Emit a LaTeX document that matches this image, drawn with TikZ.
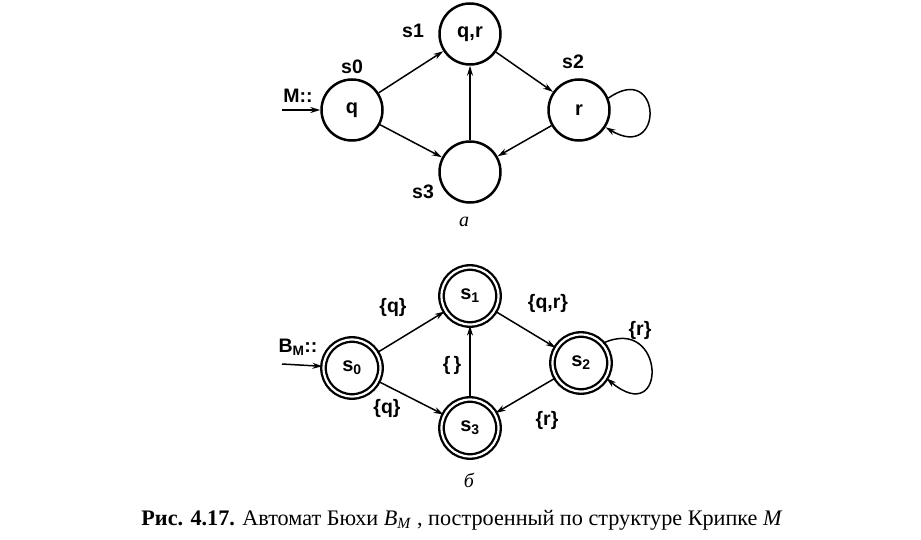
\documentclass[tikz,border=0pt]{standalone}
\usepackage{fontspec}
\setmainfont{Liberation Serif}
\setsansfont{Liberation Sans}
\usetikzlibrary{arrows.meta, positioning}

\begin{document}
\begin{tikzpicture}[x=1pt, y=-1pt,
    kst/.style={circle, draw, line width=2.5pt, minimum size=61pt, inner sep=0pt, font=\sffamily\bfseries\fontsize{20}{22}\selectfont},
    bst/.style={circle, draw, line width=2.3pt, double, double distance=2.2pt, minimum size=57pt, inner sep=0pt, font=\sffamily\bfseries\fontsize{20}{22}\selectfont},
    tr/.style={line width=1.5pt, -{Stealth[length=10pt, width=6pt]}},
    lbl/.style={font=\sffamily\bfseries\fontsize{19.5}{22}\selectfont, inner sep=1pt}]
    \useasboundingbox (0,0) rectangle (921,540);

    % Структура Крипке M (а)
    \node[kst] (a0) at (352,110) {q};
    \node[kst] (a1) at (470,34) {q,r};
    \node[kst] (a2) at (579,110) {r};
    \node[kst] (a3) at (470,172) {};
    \node[lbl] (na0) at (352,67) {s0};
    \node[lbl] (na1) at (413,31) {s1};
    \node[lbl] (na2) at (573,62) {s2};
    \node[lbl] (na3) at (423,192) {s3};
    % вход
    \node[lbl] (ma) at (298,96) {M::};
    \coordinate (ina) at (282,110);
    \draw[tr] (ina) -- (a0);
    % переходы
    \draw[tr] (a0) -- (a1);
    \draw[tr] (a0) -- (a3);
    \draw[tr] (a3) -- (a1);
    \draw[tr] (a1) -- (a2);
    \draw[tr] (a2) -- (a3);
    \draw[tr] (a2.22) .. controls (662,60) and (665,163) .. (a2.-33);
    \node[font=\fontsize{20}{24}\selectfont\itshape] (la) at (464,222) {а};

    % Автомат Бюхи B_M (б)
    \node[bst] (b0) at (352,368) {s\textsubscript{0}};
    \node[bst] (b1) at (470,296) {s\textsubscript{1}};
    \node[bst] (b2) at (581,363) {s\textsubscript{2}};
    \node[bst] (b3) at (470,428) {s\textsubscript{3}};
    % вход
    \node[lbl] (mb) at (298,347) {B\textsubscript{M}::};
    \coordinate (inb) at (282,364);
    \draw[tr] (inb) -- (b0);
    % переходы
    \draw[tr] (b0) -- (b1);
    \draw[tr] (b0) -- (b3);
    \draw[tr] (b3) -- (b1);
    \draw[tr] (b1) -- (b2);
    \draw[tr] (b2) -- (b3);
    \draw[tr] (b2.42) .. controls (666,314) and (668,430) .. (b2.-31);
    \node[lbl] (t01) at (393,307) {\{q\}};
    \node[lbl] (t03) at (387,408) {\{q\}};
    \node[lbl] (t31) at (452,365) {\{\,\}};
    \node[lbl] (t12) at (548,303) {\{q,r\}};
    \node[lbl] (t22) at (640,330) {\{r\}};
    \node[lbl] (t23) at (547,420) {\{r\}};
    \node[font=\fontsize{20}{24}\selectfont\itshape] (lb) at (469,480) {б};

    % подпись
    \node[font=\fontsize{22.2}{26}\selectfont] (cap) at (462,520)
        {\textbf{Рис. 4.17.} Автомат Бюхи \textit{B}\textsubscript{\textit{M}} , построенный по структуре Крипке \textit{M}};
\end{tikzpicture}
\end{document}
